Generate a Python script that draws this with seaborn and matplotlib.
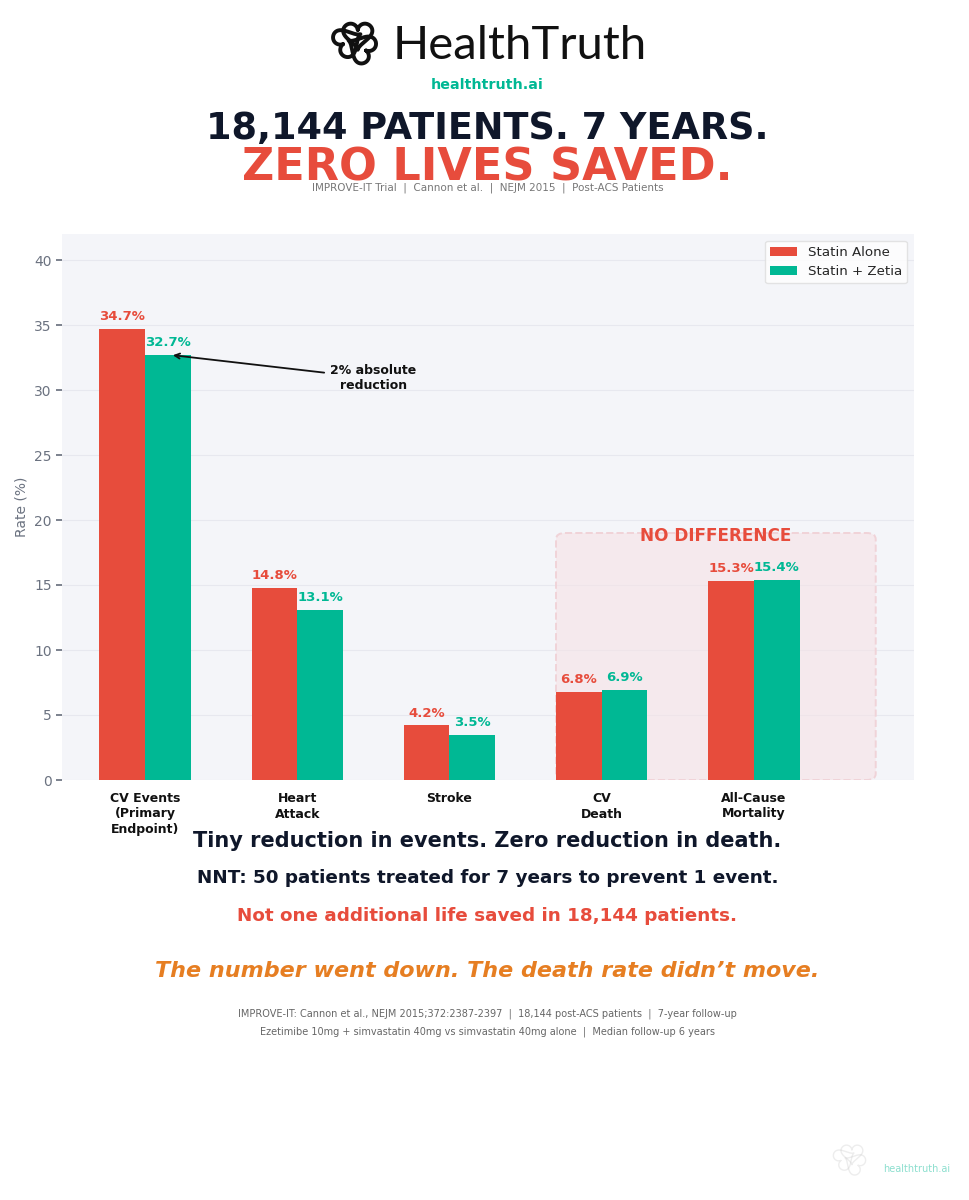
import numpy as np
import pandas as pd
import matplotlib
matplotlib.use("Agg")
import matplotlib.pyplot as plt
from matplotlib.patches import FancyBboxPatch
import seaborn as sns

# ---- data ----
categories = ["CV Events\n(Primary\nEndpoint)", "Heart\nAttack", "Stroke", "CV\nDeath", "All-Cause\nMortality"]
statin_alone = [34.7, 14.8, 4.2, 6.8, 15.3]
statin_zetia = [32.7, 13.1, 3.5, 6.9, 15.4]
series_names = ["Statin Alone", "Statin + Zetia"]
y_ticks = [0, 5, 10, 15, 20, 25, 30, 35, 40]

RED = "#e74c3c"
GREEN = "#00b894"
NAVY = "#0f172a"
ORANGE = "#e67e22"

df = pd.DataFrame({
    "category": categories * 2,
    "series": [series_names[0]] * len(categories) + [series_names[1]] * len(categories),
    "rate": statin_alone + statin_zetia,
})

sns.set_theme(style="white")
plt.rcParams["font.family"] = ["DejaVu Sans"]

fig = plt.figure(figsize=(9.69, 12), dpi=100)
fig.patch.set_facecolor("white")
ax = fig.add_axes([0.064, 0.35, 0.879, 0.455])
ax.set_facecolor("#f4f5f9")

sns.barplot(data=df, x="category", y="rate", hue="series", order=categories,
            hue_order=series_names, palette={series_names[0]: RED, series_names[1]: GREEN},
            width=0.6, dodge=True, ax=ax, saturation=1, edgecolor="none", zorder=2)

ax.set_ylim(0, 42)
ax.set_xlim(-0.545, 5.05)
ax.set_yticks(y_ticks)
ax.set_yticklabels([str(t) for t in y_ticks], color="#6b7280", fontsize=10)
ax.tick_params(axis="y", length=4, color="#6b7280", left=True)
ax.tick_params(axis="x", length=0, pad=9)
for lab in ax.get_xticklabels():
    lab.set_fontweight("bold")
    lab.set_fontsize(9)
    lab.set_color("#111111")
ax.set_xlabel("")
ax.set_ylabel("Rate (%)", color="#6b7280", fontsize=10, labelpad=4)
ax.grid(axis="y", color="#e7e8ef", linewidth=0.8)
ax.set_axisbelow(True)
for s in ax.spines.values():
    s.set_visible(False)

# value labels
for cont, color in zip(ax.containers, [RED, GREEN]):
    for bar in cont:
        h = bar.get_height()
        ax.text(bar.get_x() + bar.get_width() / 2, h + 0.45, f"{h:.1f}%",
                ha="center", va="bottom", fontsize=9.5, fontweight="bold", color=color, zorder=3)

# no difference box
box = FancyBboxPatch((2.70, 0), 2.10, 19.0, boxstyle="round,pad=0,rounding_size=0.06",
                     facecolor="#f6e2e6", alpha=0.6, edgecolor="none",
                     zorder=1, mutation_aspect=8)
ax.add_patch(box)
box_edge = FancyBboxPatch((2.70, 0), 2.10, 19.0, boxstyle="round,pad=0,rounding_size=0.06",
                          facecolor="none", edgecolor="#f0d3d8", linestyle="--",
                          linewidth=1.4, zorder=1.1, mutation_aspect=8)
ax.add_patch(box_edge)
ax.text(3.75, 18.8, "NO DIFFERENCE", ha="center", va="center", fontsize=12.2,
        fontweight="bold", color=RED, zorder=3)

ax.annotate("2% absolute\nreduction", xy=(0.165, 32.7), xytext=(1.5, 30.9),
            ha="center", va="center", fontsize=9, fontweight="bold", color="#111111",
            arrowprops=dict(arrowstyle="->", color="#111111", lw=1.3), zorder=4)

leg = ax.legend(loc="upper right", fontsize=9.6, frameon=True, borderpad=0.4,
                handlelength=2.0, handleheight=0.7, labelspacing=0.45)
leg.get_frame().set_facecolor("white")
leg.get_frame().set_edgecolor("#dddddd")
leg.set_title(None)

# ---- header ----
fig.text(0.405, 0.9505, "HealthTruth", ha="left", va="baseline", fontsize=34,
         family=["Lato", "DejaVu Sans"], color="#111111")


def knot_icon(rect, color, lw, alpha=1.0):
    iax = fig.add_axes(rect)
    iax.set_xlim(-1.35, 1.35); iax.set_ylim(-1.35, 1.35); iax.axis("off")
    t = np.linspace(0, 2 * np.pi, 300)
    hx = 16 * np.sin(t) ** 3 / 17
    hy = (13 * np.cos(t) - 5 * np.cos(2 * t) - 2 * np.cos(3 * t) - np.cos(4 * t)) / 17
    for ang, (ox, oy) in zip([0, 120, -120], [(0.1, 0.3), (-0.4, -0.05), (0.3, -0.35)]):
        a = np.deg2rad(ang)
        x = 0.72 * (hx * np.cos(a) - hy * np.sin(a)) + ox
        y = 0.72 * (hx * np.sin(a) + hy * np.cos(a)) + oy
        iax.plot(x, y, color=color, lw=lw, alpha=alpha, solid_capstyle="round")


knot_icon([0.337, 0.942, 0.060, 0.048], "#111111", 2.8)
knot_icon([0.855, 0.017, 0.045, 0.036], "#cccccc", 1.0, alpha=0.35)

fig.text(0.503, 0.929, "healthtruth.ai", ha="center", va="center", fontsize=10.3,
         fontweight="bold", color=GREEN)
fig.text(0.503, 0.8845, "18,144 PATIENTS. 7 YEARS.", ha="center", va="baseline",
         fontsize=26.4, fontweight="bold", color=NAVY)
fig.text(0.503, 0.8495, "ZERO LIVES SAVED.", ha="center", va="baseline",
         fontsize=32, fontweight="bold", color=RED)
fig.text(0.503, 0.8435, "IMPROVE-IT Trial  |  Cannon et al.  |  NEJM 2015  |  Post-ACS Patients",
         ha="center", va="center", fontsize=7.5, color="#777777")

# ---- footer text ----
fig.text(0.503, 0.299, "Tiny reduction in events. Zero reduction in death.", ha="center",
         va="center", fontsize=15, fontweight="bold", color=NAVY)
fig.text(0.503, 0.268, "NNT: 50 patients treated for 7 years to prevent 1 event.", ha="center",
         va="center", fontsize=13.2, fontweight="bold", color=NAVY)
fig.text(0.503, 0.237, "Not one additional life saved in 18,144 patients.", ha="center",
         va="center", fontsize=13.25, fontweight="bold", color=RED)
fig.text(0.503, 0.191, "The number went down. The death rate didn\u2019t move.", ha="center",
         va="center", fontsize=16, fontweight="bold", fontstyle="italic", color=ORANGE)
fig.text(0.503, 0.155, "IMPROVE-IT: Cannon et al., NEJM 2015;372:2387-2397  |  18,144 post-ACS patients  |  7-year follow-up",
         ha="center", va="center", fontsize=7, color="#666666")
fig.text(0.503, 0.140, "Ezetimibe 10mg + simvastatin 40mg vs simvastatin 40mg alone  |  Median follow-up 6 years",
         ha="center", va="center", fontsize=7, color="#666666")
fig.text(0.946, 0.026, "healthtruth.ai", ha="center", va="center", fontsize=7,
         color=GREEN, alpha=0.45)

fig.savefig("out.png", dpi=100, facecolor="white")
